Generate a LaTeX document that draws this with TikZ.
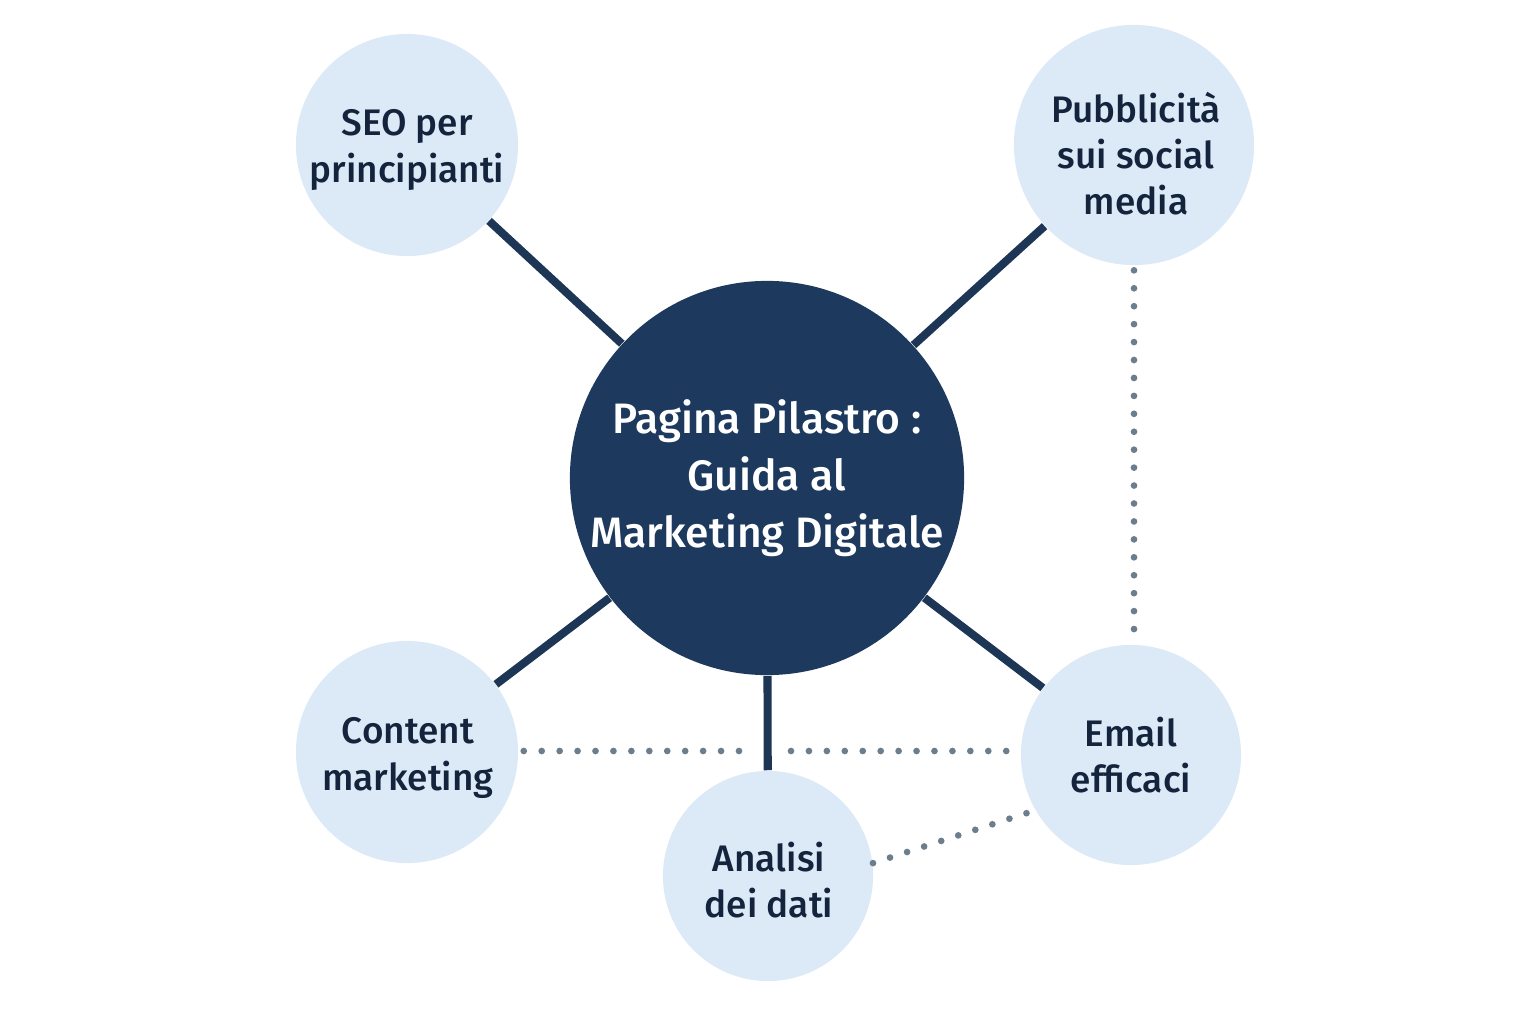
\documentclass[tikz,border=0pt]{standalone}
\usepackage{fontspec}
\setmainfont{Fira Sans Medium}
\usetikzlibrary{calc}

\definecolor{hubblue}{HTML}{1D3A5E}
\definecolor{linkblue}{HTML}{1E3656}
\definecolor{leafblue}{HTML}{DCEAF7}
\definecolor{leaftext}{HTML}{15243D}
\definecolor{dotgray}{HTML}{6C7D8C}

\begin{document}
\begin{tikzpicture}[x = {(0.01cm,0cm)},
                    y = {(0cm,-0.01cm)},
                    hub/.style  = {circle, fill=hubblue, text=white, minimum size=3.94cm,
                                   inner sep=0pt, align=center, font=\fontsize{12.1}{16.2}\selectfont},
                    leaf/.style = {circle, fill=leafblue, inner sep=0pt},
                    label/.style = {text=leaftext, align=center, font=\fontsize{10.5}{13.1}\selectfont},
                    link/.style = {line width=2.3pt, linkblue},
                    hint/.style = {line width=1.9pt, dotgray, line cap=round,
                                   dash pattern=on 0pt off 5.1pt}]

    \fill[white] (0,0) rectangle (1536,1024);

    \node[hub] (hub) at (767,478) {Pagina Pilastro :\\Guida al\\Marketing Digitale};

    \node[leaf, minimum size=2.22cm] (seo)     at (407,145) {};
    \node[leaf, minimum size=2.40cm] (social)  at (1134,145) {};
    \node[leaf, minimum size=2.22cm] (content) at (407,752) {};
    \node[leaf, minimum size=2.20cm] (email)   at (1131,755) {};
    \node[leaf, minimum size=2.10cm] (dati)    at (768,876) {};

    \node[label] (seotext)     at (407,150)  {SEO per\\principianti};
    \node[label] (socialtext)  at (1136,154) {Pubblicità\\sui social\\media};
    \node[label] (contenttext) at (408,758)  {Content\\marketing};
    \node[label] (emailtext)   at (1131,755) {Email\\efficaci};
    \node[label] (datitext)    at (769,880)  {Analisi\\dei dati};

    % solid links from the hub
    \draw[link] (hub) -- (seo);
    \draw[link] (hub) -- (social);
    \draw[link] (hub) -- (content);
    \draw[link] (hub) -- (email);
    \draw[link] (hub) -- (dati);

    % dotted cross links
    \coordinate (gapL) at (749,751);
    \coordinate (gapR) at (791,751);
    \coordinate (cstart) at (content.east |- gapL);

    \draw[hint] ($(cstart)+(5,0)$) -- (gapL);
    \draw[hint] (gapR) -- ($(email.west |- gapR)+(-3,0)$);
    \draw[hint, shorten <=1.3pt, shorten >=1.3pt] (social.south) -- (social.south |- email.north);
    \draw[hint] (dati.7) -- (email.210);

\end{tikzpicture}
\end{document}
